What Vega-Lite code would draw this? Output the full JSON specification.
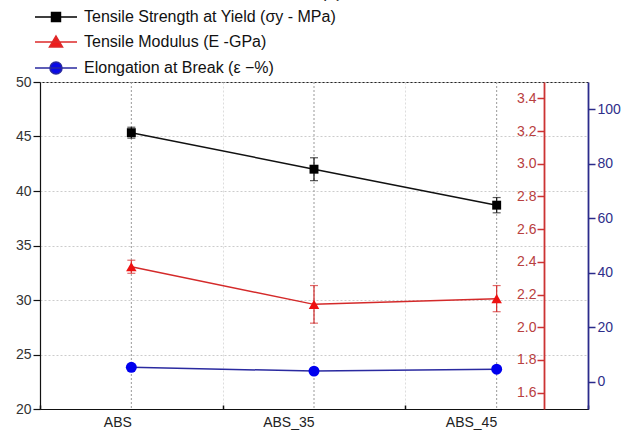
{
  "$schema": "https://vega.github.io/schema/vega-lite/v6.json",
  "width": 548,
  "height": 327,
  "autosize": {"type": "none"},
  "padding": {"left": 40, "top": 82, "right": 49, "bottom": 21},
  "background": "white",
  "config": {
    "view": {"stroke": "#222", "strokeWidth": 1},
    "font": "Liberation Sans",
    "axis": {"labelFont": "Liberation Sans", "labelOverlap": false, "labelFlush": false, "labelBound": false},
    "legend": {"labelFont": "Liberation Sans"}
  },
  "title": {"text": "(a)", "fontStyle": "italic", "fontSize": 18, "fontWeight": "normal", "color": "#222", "anchor": "middle", "frame": "group", "dx": 19, "offset": 8},
  "datasets": {
    "main": [
      {"cat": "ABS", "ts": 45.35, "ts_e": 0.5, "tm": 2.37, "tm_e": 0.04, "el": 5.3},
      {"cat": "ABS_35", "ts": 42.0, "ts_e": 1.05, "tm": 2.14, "tm_e": 0.115, "el": 3.9},
      {"cat": "ABS_45", "ts": 38.7, "ts_e": 0.7, "tm": 2.175, "tm_e": 0.08, "el": 4.6}
    ],
    "leg": [
      {"s": "Tensile Strength at Yield (σy - MPa)", "yy": 500},
      {"s": "Tensile Modulus (E -GPa)", "yy": 500},
      {"s": "Elongation at Break (ε −%)", "yy": 500}
    ]
  },
  "layer": [
    {
      "data": {"name": "main"},
      "layer": [
        {
          "mark": {"type": "rule", "color": "#999999", "strokeDash": [2, 2], "strokeWidth": 1},
          "encoding": {"x": {"field": "cat", "type": "nominal", "sort": null}}
        },
        {
          "mark": {"type": "line", "color": "#111111", "strokeWidth": 1.5},
          "encoding": {
            "x": {
              "field": "cat", "type": "nominal", "sort": null,
              "scale": {"type": "band", "paddingInner": 0, "paddingOuter": 0},
              "axis": {"title": null, "labelAngle": 0, "labelFontSize": 14, "labelColor": "#222", "tickBand": "extent", "grid": true, "gridColor": "#dddddd", "gridDash": [2, 2], "tickSize": -4, "tickColor": "#111", "tickWidth": 1.5, "domainColor": "#111", "domainWidth": 1.2, "labelPadding": 17}
            },
            "y": {
              "field": "ts", "type": "quantitative",
              "scale": {"domain": [20, 50], "nice": false, "zero": false},
              "axis": {
                "orient": "left", "title": null,
                "values": [20, 22.5, 25, 27.5, 30, 32.5, 35, 37.5, 40, 42.5, 45, 47.5, 50],
                "labelExpr": "datum.value % 5 === 0 ? datum.label : ''",
                "grid": true, "gridColor": "#cccccc", "gridDash": [2, 2],
                "tickSize": 7,
                "encode": {"ticks": {"update": {"x2": {"signal": "datum.value % 5 === 0 ? -7 : -4"}}}},
                "tickColor": "#111", "tickWidth": 1.2, "domainColor": "#111", "domainWidth": 1.2,
                "labelFontSize": 14, "labelColor": "#333", "labelPadding": 2
              }
            }
          }
        },
        {
          "mark": {"type": "errorbar", "ticks": {"size": 8}, "color": "#111111", "thickness": 1.2},
          "encoding": {
            "x": {"field": "cat", "type": "nominal", "sort": null},
            "y": {"field": "ts", "type": "quantitative"},
            "yError": {"field": "ts_e"}
          }
        },
        {
          "mark": {"type": "point", "shape": "square", "filled": true, "color": "#000000", "size": 80, "opacity": 1},
          "encoding": {
            "x": {"field": "cat", "type": "nominal", "sort": null},
            "y": {"field": "ts", "type": "quantitative"}
          }
        }
      ]
    },
    {
      "data": {"name": "main"},
      "layer": [
        {
          "mark": {"type": "line", "color": "#d42a2a", "strokeWidth": 1.5},
          "encoding": {
            "x": {"field": "cat", "type": "nominal", "sort": null},
            "y": {
              "field": "tm", "type": "quantitative",
              "scale": {"domain": [1.5, 3.5], "nice": false, "zero": false},
              "axis": {
                "orient": "left", "offset": -504, "title": null, "grid": false,
                "tickCount": 10, "format": ".1f",
                "tickSize": 7, "tickColor": "#cc3333", "tickWidth": 1.5, "domainColor": "#cc3333", "domainWidth": 1.8,
                "labelFontSize": 14, "labelColor": "#b84040", "labelPadding": 1
              }
            }
          }
        },
        {
          "mark": {"type": "errorbar", "ticks": {"size": 8}, "color": "#d42a2a", "thickness": 1.2},
          "encoding": {
            "x": {"field": "cat", "type": "nominal", "sort": null},
            "y": {"field": "tm", "type": "quantitative"},
            "yError": {"field": "tm_e"}
          }
        },
        {
          "mark": {"type": "point", "shape": "triangle-up", "filled": true, "color": "#ee1111", "size": 110, "opacity": 1},
          "encoding": {
            "x": {"field": "cat", "type": "nominal", "sort": null},
            "y": {"field": "tm", "type": "quantitative"}
          }
        }
      ]
    },
    {
      "layer": [
        {
          "data": {"name": "main"},
          "mark": {"type": "line", "color": "#2a2aa0", "strokeWidth": 1.5},
          "encoding": {
            "x": {"field": "cat", "type": "nominal", "sort": null},
            "y": {
              "field": "el", "type": "quantitative",
              "scale": {"domain": [-10, 110], "nice": false, "zero": false},
              "axis": {
                "orient": "right", "title": null, "grid": false,
                "tickCount": 6,
                "tickSize": 7, "tickColor": "#2b2b8b", "tickWidth": 1.5, "domainColor": "#2b2b8b", "domainWidth": 1.8,
                "labelFontSize": 14, "labelColor": "#2e2e8a", "labelPadding": 2
              }
            }
          }
        },
        {
          "data": {"name": "main"},
          "mark": {"type": "point", "shape": "circle", "filled": true, "color": "#0000ee", "size": 120, "opacity": 1},
          "encoding": {
            "x": {"field": "cat", "type": "nominal", "sort": null},
            "y": {"field": "el", "type": "quantitative"}
          }
        },
        {
          "data": {"name": "leg"},
          "mark": {"type": "point", "clip": true, "filled": true, "size": 196, "strokeWidth": 1.5, "opacity": 1},
          "encoding": {
            "y": {"field": "yy", "type": "quantitative"},
            "fill": {
              "field": "s", "type": "nominal", "sort": null,
              "scale": {"domain": ["Tensile Strength at Yield (σy - MPa)", "Tensile Modulus (E -GPa)", "Elongation at Break (ε −%)"], "range": ["#000000", "#ee1c1c", "#0a0ae6"]},
              "legend": {"orient": "none", "legendX": 8, "legendY": -73, "title": null, "labelFontSize": 16, "labelColor": "#111", "labelLimit": 400, "symbolSize": 196, "symbolStrokeWidth": 1.5, "symbolOpacity": 1, "labelOffset": 20, "rowPadding": 8, "padding": 0, "symbolOffset": 0}
            },
            "stroke": {
              "field": "s", "type": "nominal", "sort": null,
              "scale": {"domain": ["Tensile Strength at Yield (σy - MPa)", "Tensile Modulus (E -GPa)", "Elongation at Break (ε −%)"], "range": ["#000000", "#dd2a2a", "#2a2aa0"]},
              "legend": {"orient": "none", "legendX": 8, "legendY": -73, "title": null, "labelFontSize": 16, "labelColor": "#111", "labelLimit": 400, "symbolSize": 196, "symbolStrokeWidth": 1.5, "symbolOpacity": 1, "labelOffset": 20, "rowPadding": 8, "padding": 0, "symbolOffset": 0}
            },
            "shape": {
              "field": "s", "type": "nominal", "sort": null,
              "scale": {"domain": ["Tensile Strength at Yield (σy - MPa)", "Tensile Modulus (E -GPa)", "Elongation at Break (ε −%)"], "range": ["M-3,0H3M-0.64,-0.64H0.64V0.64H-0.64Z", "M-3,0H3M0,-0.85L0.93,0.7L-0.93,0.7Z", "M-3,0H3M0.86,0A0.86,0.86 0 1 1 -0.86,0A0.86,0.86 0 1 1 0.86,0Z"]},
              "legend": {"orient": "none", "legendX": 8, "legendY": -73, "title": null, "labelFontSize": 16, "labelColor": "#111", "labelLimit": 400, "symbolSize": 196, "symbolStrokeWidth": 1.5, "symbolOpacity": 1, "labelOffset": 20, "rowPadding": 8, "padding": 0, "symbolOffset": 0}
            }
          }
        }
      ]
    }
  ],
  "resolve": {"scale": {"y": "independent"}}
}
